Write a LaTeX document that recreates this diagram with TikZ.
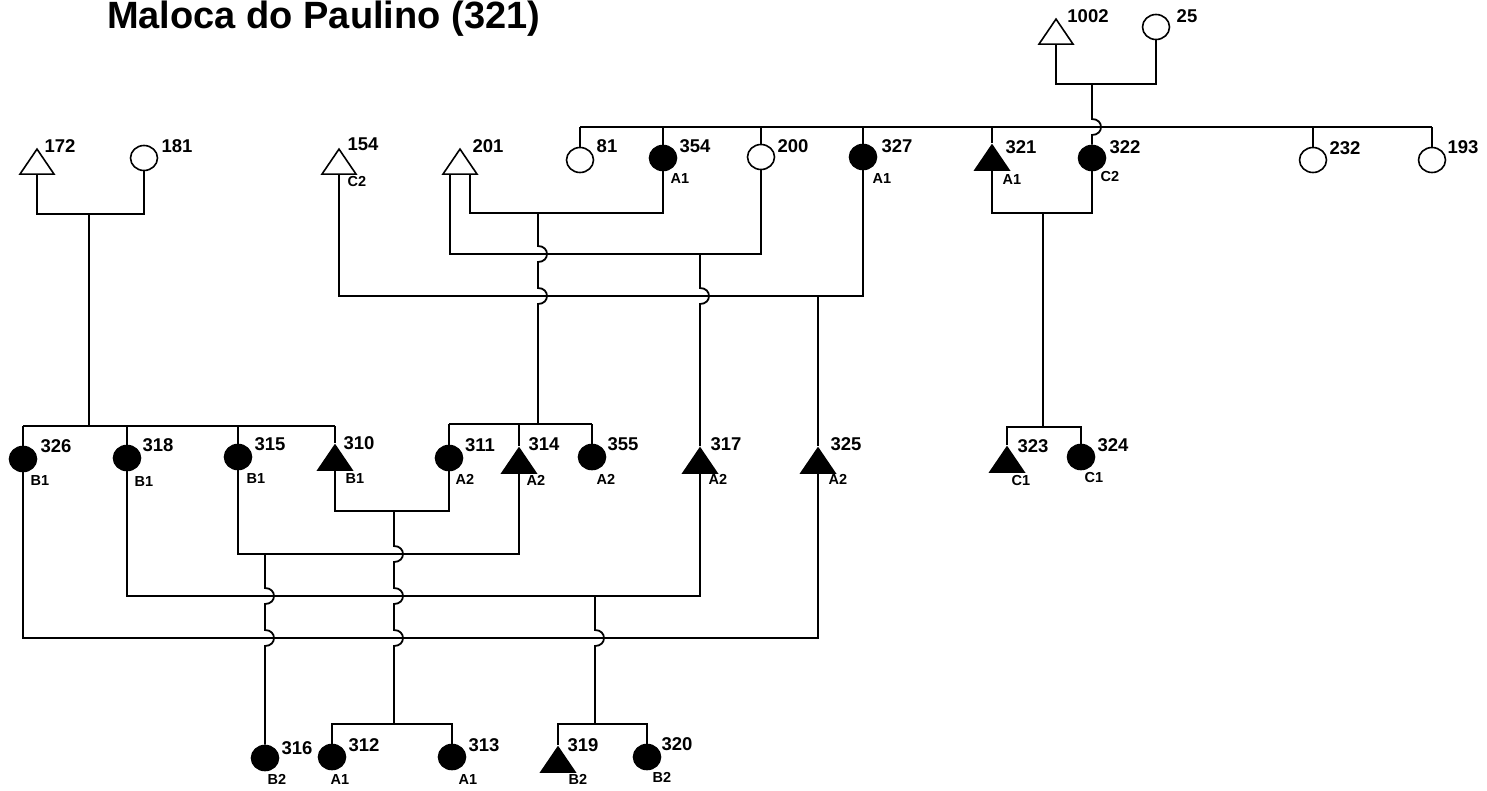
\documentclass[tikz,border=0pt]{standalone}
\usepackage{fontspec}
\setmainfont{Liberation Sans}
\usetikzlibrary{shapes.geometric}
\newcommand\hop[2]{-- (#1,#2-8) .. controls +(12,0) and +(12,0) .. (#1,#2+8)}
\tikzset{
  conn/.style={line width=1.8pt},
  circbase/.style={ellipse, draw, line width=1.6pt, minimum width=27pt, minimum height=25pt, inner sep=0pt},
  fc/.style={circbase, fill=black},
  oc/.style={circbase, fill=white},
  tribase/.style={isosceles triangle, isosceles triangle stretches, shape border rotate=90,
    minimum width=34pt, minimum height=25pt, inner sep=0pt, draw, line width=1.6pt, anchor=apex},
  ft/.style={tribase, fill=black},
  ot/.style={tribase, fill=white},
  num/.style={font=\bfseries\fontsize{18.5}{20}\selectfont, inner sep=0pt},
  sub/.style={font=\bfseries\fontsize{14.5}{16}\selectfont, inner sep=0pt},
}
\begin{document}
\begin{tikzpicture}[x=1pt,y=-1pt]
\useasboundingbox (0,0) rectangle (1487,790);
\node[font=\bfseries\fontsize{38}{40}\selectfont, anchor=base west, inner sep=0pt] (title) at (107,28) {Maloca do Paulino (321)};

\node[ot] (n1002) at (1056,17) {};
\node[oc] (n25) at (1156,27) {};
\node[oc] (n81) at (580,160) {};
\node[fc] (n354) at (663,158) {};
\node[oc] (n200) at (761,157) {};
\node[fc] (n327) at (863,157) {};
\node[ft] (n321) at (992,143) {};
\node[fc] (n322) at (1092,158) {};
\node[oc] (n232) at (1313,160) {};
\node[oc] (n193) at (1432,160) {};
\node[ot] (n172) at (37,147) {};
\node[oc] (n181) at (144,158) {};
\node[ot] (n154) at (339,147) {};
\node[ot] (n201) at (460,147) {};
\node[fc] (n326) at (23,459) {};
\node[fc] (n318) at (127,458) {};
\node[fc] (n315) at (238,457) {};
\node[ft] (n310) at (335,443) {};
\node[fc] (n311) at (449,458) {};
\node[ft] (n314) at (519,446) {};
\node[fc] (n355) at (592,457) {};
\node[ft] (n317) at (700,446) {};
\node[ft] (n325) at (818,446) {};
\node[ft] (n323) at (1007,445) {};
\node[fc] (n324) at (1081,457) {};
\node[fc] (n316) at (265,758) {};
\node[fc] (n312) at (332,757) {};
\node[fc] (n313) at (452,757) {};
\node[ft] (n319) at (558,745) {};
\node[fc] (n320) at (647,757) {};

% top couple 1002 x 25
\draw[conn] (n1002.lower side) -- (n1002.lower side |- 0,84) -- (n25.south |- 0,84) -- (n25.south);
\draw[conn] (n322.north |- 0,84) \hop{1092}{127} -- (n322.north);
% sibling bar
\draw[conn] (n81.north |- 0,127) -- (n193.north |- 0,127);
\foreach \c in {n81,n354,n200,n327,n232,n193} \draw[conn] (\c.north |- 0,127) -- (\c.north);
\draw[conn] (n321.apex |- 0,127) -- (n321.apex);

% 321 x 322
\draw[conn] (n321.lower side) -- (n321.lower side |- 0,213) -- (n322.south |- 0,213) -- (n322.south);
\coordinate (m321) at (1043,213);
\coordinate (s323) at (1043,427);
\draw[conn] (m321) -- (s323);
\draw[conn] (n323.apex) -- (n323.apex |- 0,427) -- (n324.north |- 0,427) -- (n324.north);

% 172 x 181
\draw[conn] (n172.lower side) -- (n172.lower side |- 0,214) -- (n181.south |- 0,214) -- (n181.south);
\coordinate (m172) at (89,214);
\coordinate (s326) at (89,426);
\draw[conn] (m172) -- (s326);
\draw[conn] (n326.north |- 0,426) -- (n310.apex |- 0,426);
\foreach \c in {n326,n318,n315} \draw[conn] (\c.north |- 0,426) -- (\c.north);
\draw[conn] (n310.apex |- 0,426) -- (n310.apex);

% 154 x 327
\draw[conn] (n154.lower side) -- (n154.lower side |- 0,296) -- (n327.south |- 0,296) -- (n327.south);
\draw[conn] (n325.apex |- 0,296) -- (n325.apex);

% 201 x 354
\draw[conn] ([xshift=10pt]n201.lower side) -- ([xshift=10pt]n201.lower side |- 0,213) -- (n354.south |- 0,213) -- (n354.south);
\coordinate (m201a) at (538,213);
\coordinate (s311) at (538,424);
\draw[conn] (m201a) \hop{538}{254} \hop{538}{296} -- (s311);
% 201 x 200
\draw[conn] ([xshift=-10pt]n201.lower side) -- ([xshift=-10pt]n201.lower side |- 0,254) -- (n200.south |- 0,254) -- (n200.south);
\coordinate (m201b) at (700,254);
\draw[conn] (m201b) \hop{700}{296} -- (n317.apex);
% 311 314 355 bar
\draw[conn] (n311.north |- 0,424) -- (n355.north |- 0,424);
\foreach \c in {n311,n355} \draw[conn] (\c.north |- 0,424) -- (\c.north);
\draw[conn] (n314.apex |- 0,424) -- (n314.apex);

% 310 x 311
\draw[conn] (n310.lower side) -- (n310.lower side |- 0,511) -- (n311.south |- 0,511) -- (n311.south);
\coordinate (m310) at (394,511);
\coordinate (s312) at (394,724);
\draw[conn] (m310) \hop{394}{554} \hop{394}{596} \hop{394}{638} -- (s312);
% 315 x 314
\draw[conn] (n315.south) -- (n315.south |- 0,554) -- (n314.lower side |- 0,554) -- (n314.lower side);
\coordinate (m315) at (265,554);
\draw[conn] (m315) \hop{265}{596} \hop{265}{638} -- (n316.north);
% 318 x 317
\draw[conn] (n318.south) -- (n318.south |- 0,596) -- (n317.lower side |- 0,596) -- (n317.lower side);
\coordinate (m318) at (595,596);
\coordinate (s319) at (595,724);
\draw[conn] (m318) \hop{595}{638} -- (s319);
% 326 x 325
\draw[conn] (n326.south) -- (n326.south |- 0,638) -- (n325.lower side |- 0,638) -- (n325.lower side);
% bottom bars
\draw[conn] (n312.north) -- (n312.north |- 0,724) -- (n313.north |- 0,724) -- (n313.north);
\draw[conn] (n319.apex) -- (n319.apex |- 0,724) -- (n320.north |- 0,724) -- (n320.north);

% ---------- labels ----------
\node[num] (l1002) at (1088,16) {1002};
\node[num] (l25) at (1187,16) {25};
\node[num] (l81) at (607,146) {81};
\node[num] (l354) at (695,146) {354};
\node[sub] (s354) at (680,179) {A1};
\node[num] (l200) at (793,146) {200};
\node[num] (l327) at (897,146) {327};
\node[sub] (s327) at (882,179) {A1};
\node[num] (l321) at (1021,147) {321};
\node[sub] (s321) at (1012,180) {A1};
\node[num] (l322) at (1125,147) {322};
\node[sub] (s322) at (1110,177) {C2};
\node[num] (l232) at (1345,148) {232};
\node[num] (l193) at (1463,147) {193};
\node[num] (l172) at (60,146) {172};
\node[num] (l181) at (177,146) {181};
\node[num] (l154) at (363,144) {154};
\node[sub] (s154) at (357,182) {C2};
\node[num] (l201) at (488,146) {201};
\node[num] (l326) at (56,446) {326};
\node[sub] (s326l) at (40,481) {B1};
\node[num] (l318) at (158,445) {318};
\node[sub] (s318) at (144,482) {B1};
\node[num] (l315) at (270,444) {315};
\node[sub] (s315) at (256,479) {B1};
\node[num] (l310) at (359,443) {310};
\node[sub] (s310) at (355,479) {B1};
\node[num] (l311) at (480,445) {311};
\node[sub] (s311l) at (465,479) {A2};
\node[num] (l314) at (544,444) {314};
\node[sub] (s314) at (536,480) {A2};
\node[num] (l355) at (623,444) {355};
\node[sub] (s355) at (606,479) {A2};
\node[num] (l317) at (726,444) {317};
\node[sub] (s317) at (718,479) {A2};
\node[num] (l325) at (846,444) {325};
\node[sub] (s325) at (838,479) {A2};
\node[num] (l323) at (1033,446) {323};
\node[sub] (s323l) at (1021,480) {C1};
\node[num] (l324) at (1113,445) {324};
\node[sub] (s324) at (1094,477) {C1};
\node[num] (l316) at (297,748) {316};
\node[sub] (s316) at (277,779) {B2};
\node[num] (l312) at (364,745) {312};
\node[sub] (s312l) at (340,779) {A1};
\node[num] (l313) at (484,745) {313};
\node[sub] (s313) at (468,779) {A1};
\node[num] (l319) at (583,745) {319};
\node[sub] (s319l) at (578,779) {B2};
\node[num] (l320) at (677,744) {320};
\node[sub] (s320) at (662,777) {B2};
\end{tikzpicture}
\end{document}
